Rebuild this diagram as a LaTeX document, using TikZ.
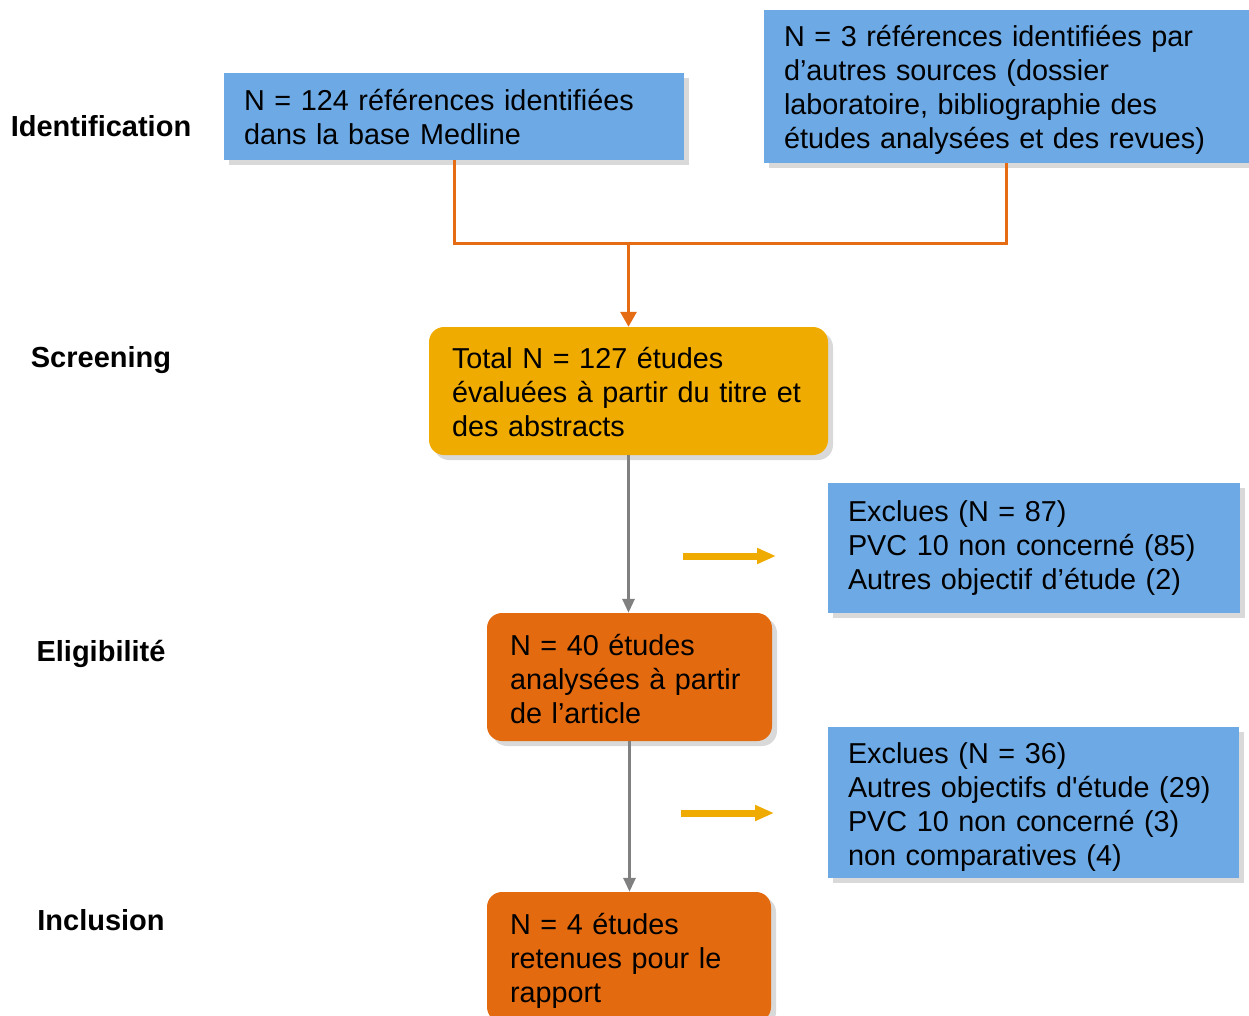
\documentclass[tikz,border=0pt]{standalone}
\usepackage{fontspec}
\setmainfont{Liberation Sans}[Ligatures=TeXOff]
\usetikzlibrary{arrows.meta,shadows}
\definecolor{boxblue}{RGB}{109,169,228}
\definecolor{boxyellow}{RGB}{240,171,0}
\definecolor{boxorange}{RGB}{228,106,16}
\definecolor{lineorange}{RGB}{230,108,20}
\definecolor{linegray}{RGB}{128,128,128}
\definecolor{shadowgray}{RGB}{217,217,217}
\newcommand{\lowertext}[2]{\raisebox{-#1}[\height][\depth]{#2}}
\tikzset{
  shadowed/.style={drop shadow={shadow xshift=5pt,shadow yshift=-5pt,fill=shadowgray,opacity=1}},
  bluebox/.style={shadowed,fill=boxblue,draw=none,inner xsep=20pt,inner ysep=0pt,align=left,
    font=\fontsize{28.8}{34}\selectfont},
  roundbox/.style={shadowed,draw=none,rounded corners=15pt,inner xsep=23pt,inner ysep=0pt,align=left,
    font=\fontsize{28.8}{34}\selectfont},
  phase/.style={font=\fontsize{29}{34}\selectfont\bfseries},
  orangeline/.style={draw=lineorange,line width=3pt},
  grayarrow/.style={draw=linegray,line width=3pt,-{Triangle[width=12pt,length=14pt]}},
  yellowarrow/.style={draw=boxyellow,line width=7pt,-{Triangle[width=15pt,length=19pt]}},
}
\begin{document}
\begin{tikzpicture}[x=1pt,y=-1pt]
\useasboundingbox (0,0) rectangle (1249,1015);
\clip (0,0) rectangle (1249,1015);
% phase labels
\node[phase] (lblId) at (101,126) {Identification};
\node[phase] (lblScr) at (101,360) {Screening};
\node[phase] (lblElig) at (101,654) {Eligibilité};
\node[phase] (lblIncl) at (101,920) {Inclusion};
% boxes
\node[bluebox,minimum width=460pt,minimum height=87pt,text width=420pt] (idA) at (454,116.5)
  {\lowertext{1pt}{\parbox{420pt}{N = 124 références identifiées\\dans la base Medline}}};
\node[bluebox,minimum width=485pt,minimum height=153pt,text width=445pt] (idB) at (1006.5,86.5)
  {\lowertext{3pt}{\parbox{445pt}{N = 3 références identifiées par\\d’autres sources (dossier\\laboratoire, bibliographie des\\études analysées et des revues)}}};
\node[roundbox,fill=boxyellow,minimum width=399pt,minimum height=128pt,text width=353pt] (scr) at (628.5,391)
  {\lowertext{1pt}{\parbox{353pt}{Total N = 127 études\\évaluées à partir du titre et\\des abstracts}}};
\node[bluebox,minimum width=412pt,minimum height=130pt,text width=372pt] (excl1) at (1034,548)
  {Exclues (N = 87)\\PVC 10 non concerné (85)\\Autres objectif d’étude (2)};
\node[roundbox,fill=boxorange,minimum width=285pt,minimum height=128pt,text width=239pt] (elig) at (629.5,677)
  {\lowertext{2pt}{\parbox{239pt}{N = 40 études\\analysées à partir\\de l’article}}};
\node[bluebox,minimum width=411pt,minimum height=151pt,text width=371pt] (excl2) at (1033.5,802.5)
  {\lowertext{5pt}{\parbox{371pt}{Exclues (N = 36)\\Autres objectifs d'étude (29)\\PVC 10 non concerné (3)\\non comparatives (4)}}};
\node[roundbox,fill=boxorange,minimum width=284pt,minimum height=130pt,text width=238pt] (incl) at (629,957)
  {\lowertext{4pt}{\parbox{238pt}{N = 4 études\\retenues pour le\\rapport}}};
% connectors
\coordinate (j) at (628.5,243);
\draw[orangeline] (idA.south) -- (idA.south |- j) -- (idB.south |- j) -- (idB.south);
\draw[orangeline,-{Triangle[width=16pt,length=15pt]}] (j) -- (scr.north);
\draw[grayarrow] (scr.south) -- (scr.south |- elig.north);
\draw[grayarrow] (elig.south) -- (elig.south |- incl.north);
\coordinate (y1s) at (683,556);
\coordinate (y1e) at (776,556);
\coordinate (y2s) at (681,813);
\coordinate (y2e) at (774,813);
\draw[yellowarrow] (y1s) -- (y1e);
\draw[yellowarrow] (y2s) -- (y2e);
\end{tikzpicture}
\end{document}
